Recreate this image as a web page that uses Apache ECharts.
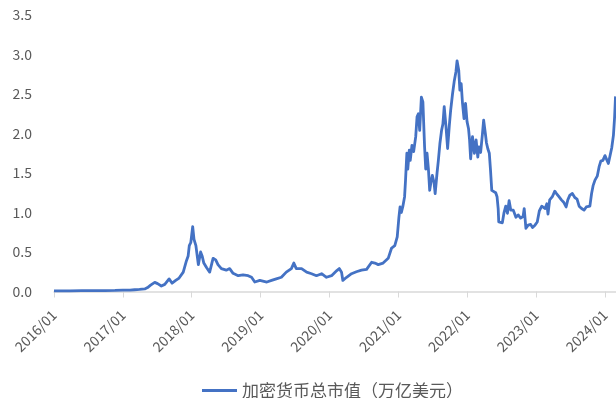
<!DOCTYPE html>
<html>
<head>
<meta charset="utf-8">
<title>加密货币总市值</title>
<script src="https://cdn.jsdelivr.net/npm/echarts@6/dist/echarts.min.js"></script>
<style>
  html, body { margin: 0; padding: 0; background: #fff; }
  #chart { width: 616px; height: 398px; }
</style>
</head>
<body>
<div id="chart"></div>
<script>
// Observation dates (YYYY-MM-DD)
const dates = [
  '2016-01-01','2016-03-25','2016-05-27','2016-07-09','2016-09-28','2016-11-20',
  '2017-01-01','2017-02-08','2017-03-04','2017-03-30','2017-04-27','2017-05-12','2017-05-28','2017-06-19','2017-07-04','2017-07-24','2017-08-11','2017-09-03','2017-09-19','2017-10-08','2017-10-26','2017-11-17','2017-11-26','2017-12-04','2017-12-13','2017-12-19','2017-12-27',
  '2018-01-06','2018-01-13','2018-01-23','2018-02-05','2018-02-17','2018-02-25','2018-03-06','2018-03-21','2018-04-06','2018-04-24','2018-05-08','2018-05-20','2018-06-07','2018-07-03','2018-07-21','2018-08-08','2018-09-04','2018-09-30','2018-10-27','2018-11-14','2018-12-01','2018-12-28',
  '2019-02-03','2019-02-28','2019-03-25','2019-04-21','2019-05-17','2019-06-13','2019-06-26','2019-07-09','2019-08-06','2019-09-02','2019-09-28','2019-10-24','2019-11-20','2019-12-16',
  '2020-01-12','2020-02-09','2020-02-22','2020-03-05','2020-03-12','2020-04-01','2020-04-27','2020-05-23','2020-06-19','2020-07-16','2020-08-12','2020-08-29','2020-09-16','2020-10-12','2020-11-08','2020-11-26','2020-12-13','2020-12-26',
  '2021-01-04','2021-01-10','2021-01-17','2021-01-25','2021-02-03','2021-02-08','2021-02-15','2021-02-20','2021-02-28','2021-03-05','2021-03-14','2021-03-23','2021-04-03','2021-04-10','2021-04-17','2021-04-24','2021-05-03','2021-05-11','2021-05-20','2021-05-26','2021-06-02','2021-06-09','2021-06-16','2021-06-24','2021-06-30','2021-07-09','2021-07-15','2021-07-25','2021-08-01','2021-08-09','2021-08-18','2021-08-25','2021-09-01','2021-09-10','2021-09-19','2021-09-28','2021-10-05','2021-10-15','2021-10-24','2021-11-02','2021-11-08','2021-11-17','2021-11-23','2021-11-30','2021-12-07','2021-12-15','2021-12-23','2021-12-31',
  '2022-01-08','2022-01-13','2022-01-19','2022-01-29','2022-02-08','2022-02-17','2022-02-26','2022-03-04','2022-03-13','2022-03-22','2022-03-29','2022-04-07','2022-04-13','2022-04-21','2022-04-28','2022-05-04','2022-05-11','2022-05-21','2022-06-01','2022-06-08','2022-06-14','2022-06-17','2022-06-26','2022-07-06','2022-07-15','2022-07-24','2022-08-02','2022-08-11','2022-08-20','2022-09-02','2022-09-16','2022-09-28','2022-10-11','2022-10-24','2022-10-30','2022-11-08','2022-11-20','2022-12-03','2022-12-13','2022-12-26',
  '2023-01-07','2023-01-18','2023-01-31','2023-02-09','2023-02-18','2023-02-27','2023-03-05','2023-03-14','2023-03-28','2023-04-10','2023-04-19','2023-05-02','2023-05-15','2023-05-27','2023-06-09','2023-06-18','2023-06-29','2023-07-12','2023-07-25','2023-08-06','2023-08-17','2023-08-30','2023-09-12','2023-09-24','2023-10-04','2023-10-13','2023-10-22','2023-10-30','2023-11-09','2023-11-21','2023-12-01','2023-12-10','2023-12-21',
  '2024-01-01','2024-01-10','2024-01-19','2024-01-28','2024-02-06','2024-02-15','2024-02-21','2024-02-26'
];

// Total crypto market cap, trillion USD
const marketCap = [
  0.007,0.008,0.010,0.011,0.012,0.013,
  0.017,0.018,0.022,0.026,0.032,0.05,0.08,0.115,0.10,0.07,0.09,0.16,0.105,0.14,0.17,0.245,0.27,0.39,0.45,0.58,0.62,
  0.82,0.66,0.58,0.34,0.50,0.45,0.36,0.30,0.245,0.42,0.40,0.34,0.29,0.27,0.29,0.23,0.20,0.21,0.20,0.18,0.12,0.14,
  0.12,0.14,0.16,0.18,0.245,0.29,0.36,0.29,0.29,0.245,0.225,0.20,0.225,0.18,
  0.20,0.265,0.29,0.245,0.14,0.18,0.225,0.25,0.27,0.28,0.37,0.36,0.34,0.36,0.42,0.55,0.58,0.69,
  0.94,1.07,1.00,1.08,1.20,1.41,1.75,1.55,1.79,1.66,1.85,1.77,1.96,2.21,2.25,2.04,2.46,2.40,1.83,1.55,1.75,1.56,1.28,1.40,1.47,1.38,1.24,1.50,1.66,1.87,2.04,2.12,2.34,2.10,1.81,2.10,2.29,2.50,2.66,2.78,2.92,2.80,2.55,2.63,2.38,2.19,2.38,2.15,
  2.06,1.93,1.68,1.96,1.75,1.92,1.70,1.83,1.76,1.98,2.17,2.00,1.88,1.80,1.75,1.55,1.28,1.27,1.25,1.20,1.05,0.88,0.90,0.87,1.00,1.08,0.99,1.15,1.03,1.03,0.94,0.97,0.93,0.95,1.05,0.80,0.84,0.85,0.81,0.84,
  0.88,1.02,1.08,1.09,1.05,1.11,0.98,1.16,1.20,1.27,1.24,1.20,1.16,1.13,1.07,1.16,1.22,1.24,1.19,1.17,1.08,1.05,1.03,1.07,1.05,1.08,1.24,1.34,1.41,1.46,1.58,1.65,1.66,
  1.72,1.70,1.62,1.60,1.82,1.98,2.20,2.47
];

// Year ticks on the time axis
const yearTicks = [2016, 2017, 2018, 2019, 2020, 2021, 2022, 2023, 2024];
const seriesName = '加密货币总市值（万亿美元）';

// Convert a date string into a fractional year position
function yearFraction(s) {
  const [y, m, d] = s.split('-').map(Number);
  const t0 = Date.UTC(y, 0, 1), t1 = Date.UTC(y + 1, 0, 1);
  return y + (Date.UTC(y, m - 1, d) - t0) / (t1 - t0);
}

const points = dates.map((d, i) => [yearFraction(d), marketCap[i]]);

const lineColor = '#4472C4';
const textColor = '#595959';
const axisGray = '#d9d9d9';
const fontFamily = "'Noto Sans CJK SC', 'Noto Sans', sans-serif";

const chart = echarts.init(document.getElementById('chart'), null, { renderer: 'canvas' });
chart.setOption({
  animation: false,
  backgroundColor: '#fff',
  textStyle: { fontFamily: fontFamily },
  grid: { left: 54, right: 0, top: 15, bottom: 106.5, containLabel: false },
  xAxis: {
    type: 'value',
    min: 2016,
    max: 2024.16,
    axisLine: { show: true, lineStyle: { color: axisGray, width: 1.5 } },
    axisTick: { show: true, length: 6, lineStyle: { color: axisGray, width: 1 }, customValues: yearTicks },
    axisLabel: {
      customValues: yearTicks,
      rotate: 45,
      margin: 21,
      color: textColor,
      fontSize: 14,
      fontFamily: fontFamily,
      formatter: v => Math.round(v) + '/01'
    },
    splitLine: { show: false }
  },
  yAxis: {
    type: 'value',
    min: 0,
    max: 3.5,
    interval: 0.5,
    axisLine: { show: false },
    axisTick: { show: false },
    splitLine: { show: false },
    axisLabel: {
      margin: 22,
      color: textColor,
      fontSize: 14,
      fontFamily: fontFamily,
      formatter: v => v.toFixed(1)
    }
  },
  legend: {
    left: 197,
    top: 377,
    icon: 'rect',
    itemWidth: 35,
    itemHeight: 3,
    itemGap: 10,
    textStyle: { color: textColor, fontSize: 17, fontFamily: fontFamily },
    data: [seriesName]
  },
  series: [{
    name: seriesName,
    type: 'line',
    data: points,
    symbol: 'none',
    showSymbol: false,
    smooth: false,
    lineStyle: { color: lineColor, width: 2.8, join: 'round' },
    itemStyle: { color: lineColor }
  }]
});
</script>
</body>
</html>
